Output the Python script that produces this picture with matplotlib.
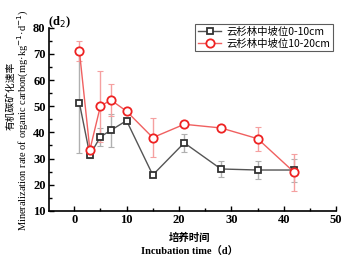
import matplotlib
matplotlib.use("Agg")
import matplotlib.pyplot as plt
from matplotlib.ticker import MultipleLocator

# 培养天数
days = [1, 3, 5, 7, 10, 15, 21, 28, 35, 42]

# 云杉林中坡位 0-10cm
top_vals = [51.3, 31.3, 38.3, 40.8, 44.5, 23.7, 36.0, 26.0, 25.6, 25.6]
top_err = [19.0, 1.0, 3.5, 6.3, 0.8, 0.8, 3.4, 2.9, 3.5, 4.4]

# 云杉林中坡位 10-20cm
sub_vals = [71.2, 33.3, 50.0, 52.4, 48.1, 38.0, 43.1, 41.7, 37.6, 24.7]
sub_err = [3.8, 1.5, 13.5, 6.2, 0.8, 7.4, 0.8, 0.8, 4.6, 7.0]

labels = ["云杉林中坡位0-10cm", "云杉林中坡位10-20cm"]

serif = ["Liberation Serif", "DejaVu Serif"]
cjk = ["Noto Sans CJK SC", "DejaVu Sans"]

fig = plt.figure(figsize=(3.44, 2.58), dpi=100)
ax = fig.add_axes([0.1424, 0.183, 0.835, 0.709])

ax.errorbar(days, top_vals, yerr=top_err, fmt="none", ecolor="#b0b0b0",
            elinewidth=1, capsize=2, capthick=0.8, zorder=1)
ax.errorbar(days, sub_vals, yerr=sub_err, fmt="none", ecolor="#f5a0a0",
            elinewidth=1, capsize=2, capthick=0.8, zorder=1)

ax.plot(days, top_vals, color="#555555", lw=1, marker="s", ms=5,
        mfc="white", mec="#333333", mew=1.3, label=labels[0], zorder=3)
ax.plot(days, sub_vals, color="#f06060", lw=1, marker="o", ms=6,
        mfc="white", mec="#ee2222", mew=1.3, label=labels[1], zorder=4)

ax.set_xlim(-4.8, 50)
ax.set_ylim(10, 80)
ax.xaxis.set_major_locator(MultipleLocator(10))
ax.xaxis.set_minor_locator(MultipleLocator(5))
ax.yaxis.set_major_locator(MultipleLocator(10))
ax.yaxis.set_minor_locator(MultipleLocator(5))
ax.tick_params(which="both", direction="in", width=1)
ax.tick_params(which="major", length=3.5, pad=2.5)
ax.tick_params(which="minor", length=2)
for s in ("top", "right"):
    ax.spines[s].set_visible(False)
for s in ("left", "bottom"):
    ax.spines[s].set_linewidth(1.2)
for lab in ax.get_xticklabels() + ax.get_yticklabels():
    lab.set_family(serif)
    lab.set_fontweight("bold")
    lab.set_fontsize(9)

leg = ax.legend(loc="upper right", bbox_to_anchor=(0.995, 1.03),
                prop={"family": cjk, "size": 7.5},
                frameon=True, fancybox=False, edgecolor="#333333",
                borderpad=0.25, labelspacing=0.15, handlelength=2.2,
                handletextpad=0.5, borderaxespad=0.2)
leg.get_frame().set_linewidth(0.8)

fig.text(0.14, 0.915, "(d$_2$)", family=serif, fontweight="bold", fontsize=9,
         ha="left", va="center")

fig.text(0.03, 0.628, "有机碳矿化速率", family=cjk, fontsize=7, rotation=90,
         ha="center", va="center")
fig.text(0.068, 0.535, "Mineralization rate of organic carbon(mg·kg$^{-1}$·d$^{-1}$)",
         family=serif, fontsize=7.5, rotation=90, ha="center", va="center")

fig.text(0.55, 0.078, "培养时间", family=cjk, fontsize=7.5, fontweight="bold",
         ha="center", va="center")
fig.text(0.55, 0.024, "Incubation time（d）", family=serif + cjk, fontsize=7.5,
         fontweight="bold", ha="center", va="center")

fig.savefig("out.png", dpi=100)
